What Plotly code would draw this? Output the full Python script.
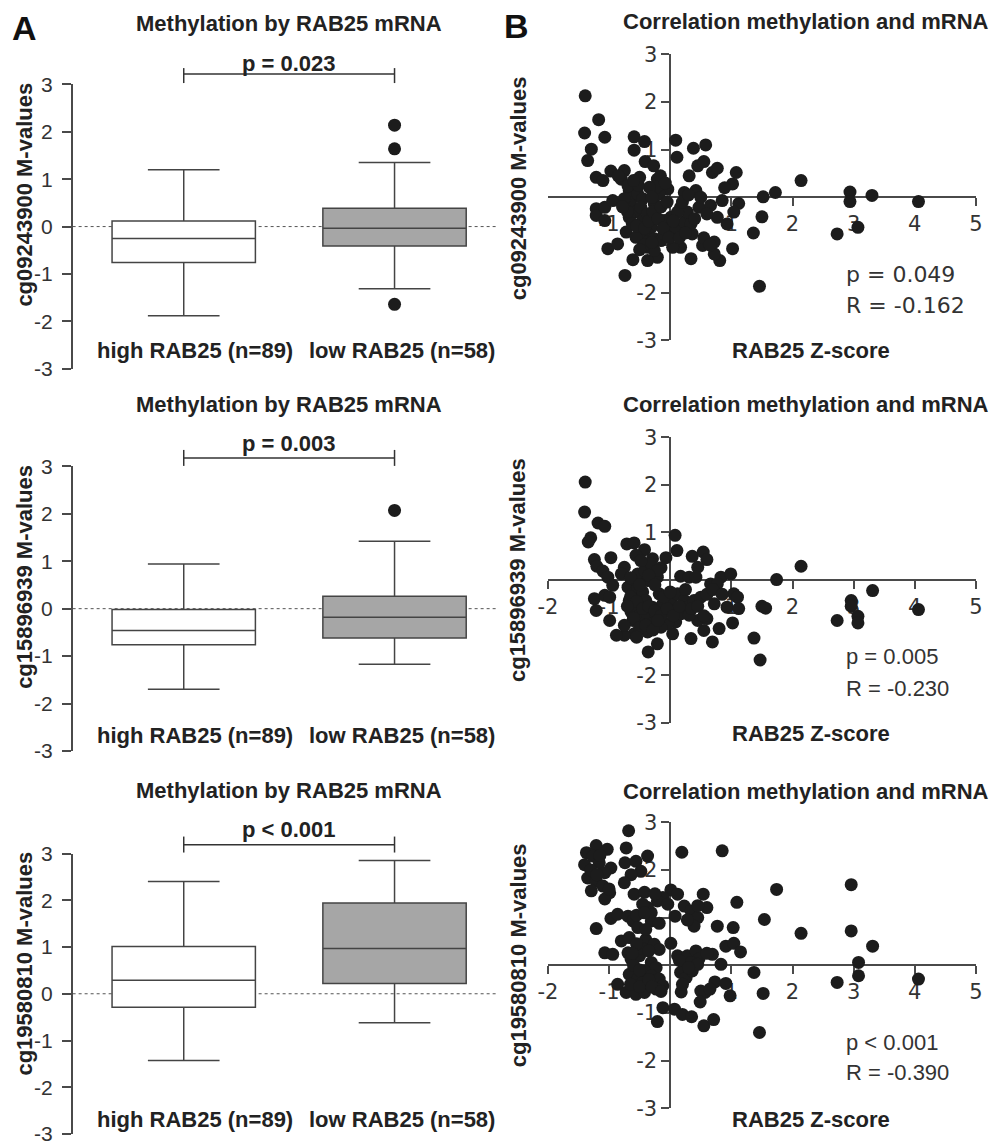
import plotly.graph_objects as go

W, H = 996, 1146
# measured placement of the figure in the photographed page (offset, scale)
AX_OFF, SX = 8.0, 0.984
AY_OFF, SY = 10.5, 0.981

# ---------------- data ----------------
groups = ["high RAB25 (n=89)", "low RAB25 (n=58)"]
probes = ["cg09243900", "cg15896939", "cg19580810"]
box_p = ["p = 0.023", "p = 0.003", "p < 0.001"]
# [lowerfence, q1, median, q3, upperfence]
high_stats = [[-1.88, -0.76, -0.25, 0.12, 1.20],
              [-1.70, -0.76, -0.46, -0.02, 0.94],
              [-1.43, -0.29, 0.29, 1.01, 2.40]]
low_stats = [[-1.31, -0.41, -0.035, 0.385, 1.35],
             [-1.17, -0.62, -0.18, 0.26, 1.42],
             [-0.62, 0.22, 0.97, 1.94, 2.85]]
low_outliers = [[2.14, 1.64, -1.64], [2.07], []]

scatter_p = ["p = 0.049", "p = 0.005", "p < 0.001"]
scatter_r = ["R = -0.162", "R = -0.230", "R = -0.390"]

s1_x = [-1.39, -1.17, -1.40, -1.07, -1.29, -1.35, -0.59, -0.42, -0.59, -0.41, -0.27, 0.09, 0.11, 0.38, 0.58,
        0.45, 0.55, 0.31, 0.69, 0.77, 1.08, 1.02, 0.89, 1.52, 1.50, 1.36, 1.46, 1.12, 1.04, 0.93, 1.02, 0.81,
        0.72, 0.72, 0.53, 0.34, 0.36, 0.47, 0.66, 0.85, 0.77, 0.42, 0.23, 0.17, 0.01, 0.17, 0.04, -0.21, -0.37,
        -0.61, -0.74, -1.02, -0.86, -0.72, -1.21, -1.21, -1.07, -1.07, -0.94, -1.21, -1.10, -0.97, -0.75, -0.80,
        -0.50, -0.21, -0.16, -0.04, -0.67, -0.61, -0.53, -0.45, -0.64, -0.56, -0.48, -0.67, -0.45, -0.37, -0.31,
        -0.26, -0.18, -0.23, -0.34, -0.37, -0.26, -0.15, -0.45, -0.50, -0.56, -0.37, -0.26, -0.10, 0.01, 0.09,
        0.23, 0.34, 0.28, 0.12, -0.10, -0.75, -0.69, 2.14, 1.72, 2.94, 2.94, 3.30, 4.06, 2.73, 3.07,
        -0.62, -0.55, -0.42, -0.35, -0.28, -0.20, -0.15, -0.05, -0.08, -0.30, -0.52, -0.60, -0.70, -0.78, -0.42,
        -0.50, -0.30, -0.12, -0.02, 0.15, 0.25, 0.05, 0.20, 0.30, 0.50, 0.60, 0.40, 0.55, 0.65, -0.85]
s1_y = [2.13, 1.63, 1.35, 1.26, 1.01, 0.77, 1.27, 1.17, 0.99, 0.75, 0.66, 1.20, 0.84, 1.03, 1.10,
        0.66, 0.75, 0.45, 0.52, 0.61, 0.52, 0.28, 0.20, 0.01, -0.41, -0.75, -1.87, -0.13, -0.31, -0.56, -1.08, -1.33,
        -1.19, -0.94, -1.01, -1.29, -0.77, -0.21, -0.17, -0.07, -0.42, 0.14, 0.10, -0.21, -0.42, -1.05, -1.05, -1.26, -1.33,
        -1.31, -1.64, -1.08, -0.98, -0.73, -0.24, -0.38, -0.49, -0.21, -0.07, 0.42, 0.35, 0.55, 0.56, 0.38,
        0.42, 0.38, 0.45, 0.17, 0.14, 0.00, 0.07, -0.03, -0.17, -0.31, -0.21, -0.42, -0.49, -0.35, -0.63,
        -0.14, 0.07, 0.21, 0.21, -0.77, -0.87, -0.91, -0.91, -0.73, -0.84, -1.05, -1.12, -0.77, -0.70, -0.63,
        -0.52, -0.56, -0.31, -0.31, -0.49, -0.03, 0.24, 0.35, 0.10, 0.11, -0.09, 0.04, -0.09, -0.77, -0.63,
        -0.55, -0.60, -0.65, -0.50, -0.30, -0.45, -0.20, -0.10, 0.30, 0.00, 0.25, 0.35, -0.30, -0.20, -1.00,
        -1.10, -0.95, -0.65, -0.85, -0.85, -0.75, -0.50, -0.10, 0.05, 0.00, -0.35, -0.45, -0.85, -1.00, 0.45]

s2_x = [-1.39, -1.40, -1.18, -1.07, -1.30, -1.34, 0.08, 0.11, -0.97, -1.24, -1.20, -1.10, -1.02, -0.94,
        -0.71, -0.59, -0.42, -0.56, -0.29, -0.15, -0.07, -0.75, -0.80, -0.21, 0.36, 0.54, 0.60, 0.45, 0.17,
        0.31, 0.42, 0.83, 0.99, 0.66, 0.77, 1.04, 1.10, 0.93, 1.12, 1.02, 0.80, 0.69, 0.55, 0.45, 0.60, 0.72,
        0.34, 0.04, 0.09, -0.04, -0.21, -0.36, -0.15, -0.37, -0.59, -0.75, -0.88, -0.99, -1.21, -1.24, -1.07,
        -0.99, -0.69, -0.61, -0.53, -0.45, -0.67, -0.53, -0.40, -0.29, -0.64, -0.50, -0.37, -0.23, -0.61, -0.48,
        -0.31, -0.18, -0.12, 0.01, 0.12, 0.23, 0.28, 0.39, 0.50, 0.17, 0.31, 0.01, -0.53, -0.42, -0.31, -0.21,
        -0.37, -0.64, -0.48, 2.14, 1.74, 1.50, 1.56, 1.37, 1.47, 2.73, 2.96, 2.96, 3.07, 3.07, 3.31, 4.06,
        -0.65, -0.55, -0.45, -0.35, -0.25, -0.15, -0.05, 0.05, -0.70, -0.60, -0.50, -0.40, -0.28, -0.20, -0.10,
        0.00, 0.15, 0.35, 0.45, 0.60, 0.70, 0.25, -0.65, -0.50, -0.35, -0.25, -0.75, -0.55, 0.55, 0.85]
s2_y = [2.06, 1.43, 1.20, 1.13, 0.89, 0.80, 0.94, 0.62, 0.47, 0.43, 0.29, 0.19, 0.06, -0.11,
        0.76, 0.78, 0.64, 0.52, 0.45, 0.26, 0.47, 0.27, 0.13, 0.06, 0.50, 0.59, 0.43, 0.27, 0.08,
        0.06, 0.06, 0.06, 0.13, -0.08, -0.08, -0.29, -0.36, -0.57, -0.60, -0.90, -1.02, -1.30, -1.06, -0.85, -0.81, -0.50,
        -1.23, -1.13, -0.88, -0.92, -1.34, -1.51, -0.99, -1.09, -1.13, -1.16, -1.16, -0.85, -0.64, -0.39, -0.32,
        -0.36, -0.15, -0.29, -0.15, -0.25, -0.43, -0.50, -0.43, -0.57, -0.67, -0.74, -0.78, -0.74, -0.85, -0.92,
        -0.92, -0.29, -0.50, -0.43, -0.29, -0.43, -0.57, -0.43, -0.36, -0.71, -0.74, -0.64, 0.13, 0.20, 0.34, 0.20,
        -0.01, 0.03, 0.41, 0.29, 0.01, -0.55, -0.59, -1.22, -1.68, -0.85, -0.43, -0.55, -0.76, -0.90, -0.22, -0.62,
        -0.35, -0.45, -0.60, -0.55, -0.65, -0.75, -0.60, -0.75, -0.55, -0.80, -1.00, -0.95, -1.05, -0.85, -0.35,
        -0.25, -0.55, -0.60, -0.55, -0.30, -0.20, -0.20, 0.05, -0.10, 0.10, -0.10, -0.95, -1.20, -0.75, -0.30]

s3_x = [-0.68, -0.72, -1.21, -1.37, -1.03, -1.40, -1.26, -1.16, -0.97, -1.07, -1.35, -1.21, -1.29, -1.10,
        -0.99, -1.07, -0.74, -0.56, -0.37, -0.48, -0.64, -0.75, -0.59, -0.42, 0.19, 0.85, 0.01, 0.12, -0.12,
        -0.21, -0.37, -0.45, -0.31, -0.04, 0.54, 0.60, 1.09, 0.23, 0.34, 0.45, 0.08, 0.39, 0.77, 1.03, 1.54,
        -0.97, -0.86, -0.69, -0.61, -0.53, -0.31, -0.18, -1.21, -0.80, -0.67, -0.40, -0.26, -0.18, 0.01, -1.07,
        -0.94, -0.69, -0.64, -0.50, -0.31, -0.23, -0.59, -0.42, -0.67, -0.53, -0.31, -0.18, -0.12, -0.86, -0.72,
        -0.56, -0.42, -0.23, -0.45, 0.12, 0.28, 0.42, 0.47, 0.69, 0.91, 1.04, 1.15, 0.83, 0.23, 0.34, 0.17,
        0.26, 0.36, 0.45, 0.73, 0.91, 0.98, 0.18, 0.50, 0.57, 0.49, 1.37, 1.52, 1.46, -0.12, 0.07, 0.20, 0.35,
        -0.21, 0.55, 0.71, 1.74, 2.14, 2.96, 2.96, 3.31, 3.08, 3.08, 2.73, 4.06,
        -0.60, -0.50, -0.45, -0.35, -0.55, -0.65, -0.50, -0.35, -0.30, -0.62, -0.40, -0.55, -0.42, -1.15, -1.30,
        -1.00, -1.20, 0.15, 0.30, 0.28, 0.45, -0.25, 0.20, -0.15, 0.65, 0.60]
s3_y = [2.82, 2.46, 2.51, 2.36, 2.43, 2.11, 2.29, 2.15, 2.04, 1.94, 1.83, 1.76, 1.56, 1.66,
        1.52, 1.39, 2.15, 2.18, 2.29, 1.97, 1.90, 1.73, 1.49, 1.53, 2.37, 2.40, 1.58, 1.49, 1.42,
        1.35, 1.21, 1.28, 1.10, 1.28, 1.49, 1.21, 1.32, 1.24, 1.14, 1.00, 1.03, 0.82, 0.82, 0.79, 0.96,
        0.98, 1.07, 1.03, 0.93, 0.79, 0.93, 0.88, 0.77, 0.51, 0.58, 0.54, 0.44, 0.33, 0.46, 0.26,
        0.23, 0.26, 0.13, 0.20, 0.06, -0.05, -0.05, -0.12, -0.19, -0.29, -0.22, -0.29, -0.43, -0.40, -0.57,
        -0.61, -0.57, -0.50, -0.36, 0.20, 0.20, 0.30, 0.13, 0.23, 0.40, 0.46, 0.28, 0.02, -0.01, 0.06, -0.15,
        -0.26, -0.12, 0.02, -0.35, -0.38, -0.64, -0.56, -0.54, -0.57, -0.77, -0.15, -0.59, -1.41, -0.89, -0.92, -1.03, -1.08,
        -1.18, -1.27, -1.14, 1.59, 0.67, 1.69, 0.72, 0.40, 0.06, -0.22, -0.36, -0.29,
        0.00, -0.10, 0.35, 0.30, 0.45, -0.40, -0.45, -0.30, -0.45, 0.25, 0.75, 1.05, 1.10, 2.30, 2.00,
        1.60, 1.90, 0.10, -0.05, 0.95, 1.25, 1.50, -0.40, -0.55, -0.50, 0.25]

scatter_x = [s1_x, s2_x, s3_x]
scatter_y = [s1_y, s2_y, s3_y]

# ---------------- layout helpers (reference pixel -> paper) ----------------
def clamp(v):
    return min(1.0, max(0.0, v))

def fx(p):
    return clamp(((p - AX_OFF) / SX) / W)

def fy(p):
    return clamp(1 - ((p - AY_OFF) / SY) / H)

SANS = "Liberation Sans, Arial, sans-serif"
VERD = "DejaVu Sans, Verdana, sans-serif"
TXT = "#222222"
AX = "#4a4a4a"
BOLD = 22

box_x_px = (70.7, 497.0)
box_x_range = [-0.527, 1.493]
box_rows = [(83.0, 368.0), (465.7, 751.0), (853.7, 1139.0)]
sc_x_px = (546.5, 975.0)
sc_x_range = [-2, 5]
sc_rows = [(53.0, 339.3), (436.7, 722.7), (822.3, 1109.0)]

box_title_y = [21.7, 403.3, 790.7]
box_ptext_y = [61.7, 443.3, 830.0]
bracket_y = [72.7, 457.3, 845.0]
bracket_tick = [(66.7, 81.7), (449.3, 465.3), (836.7, 852.7)]
cat_y = [350.0, 735.0, 1120.0]
box_ytitle_y = [193.0, 576.0, 963.5]
sc_title_y = [20.0, 403.3, 791.7]
sc_xtitle_y = [350.0, 733.3, 1120.0]
sc_ytitle_y = [187.0, 569.5, 955.5]
sc_p_y = [(273.3, 305.0), (656.7, 688.3), (1043.3, 1073.3)]

def box_xpaper(v):
    a, b = box_x_px
    r0, r1 = box_x_range
    return fx(a + (v - r0) / (r1 - r0) * (b - a))

fig = go.Figure()
layout = dict(width=W, height=H, margin=dict(l=0, r=0, t=0, b=0, pad=0), autosize=False,
              paper_bgcolor="white", plot_bgcolor="white", showlegend=False)
annotations = []
shapes = []

def ticktext(vals):
    return [str(v) for v in vals]

def bold(size=BOLD, family=SANS):
    return dict(family=family, size=size, color=TXT, weight="bold")

for i in range(3):
    n = i + 1
    xa, ya = f"x{n}", f"y{n}"
    top, bot = box_rows[i]
    layout[f"xaxis{n}"] = dict(domain=[fx(box_x_px[0]), fx(box_x_px[1])], range=box_x_range,
                               visible=False, anchor=ya, fixedrange=True)
    yv = [-3, -2, -1, 0, 1, 2, 3]
    layout[f"yaxis{n}"] = dict(domain=[fy(bot), fy(top)], range=[-3, 3], anchor=xa,
                               tickvals=yv, ticktext=ticktext(yv), showline=True, linecolor=AX,
                               linewidth=1.5, ticks="outside", ticklen=9, tickwidth=1.5, tickcolor=AX,
                               ticklabelstandoff=5,
                               showgrid=False, zeroline=False, tickfont=dict(family=SANS, size=21, color="#333333"),
                               layer="below traces", fixedrange=True)
    # boxes
    for gi, (stats, fill) in enumerate([(high_stats[i], "white"), (low_stats[i], "#a6a6a6")]):
        lf, q1, med, q3, uf = stats
        fig.add_trace(go.Box(x=[gi], q1=[q1], median=[med], q3=[q3], lowerfence=[lf], upperfence=[uf],
                             width=0.68, whiskerwidth=0.5, fillcolor=fill,
                             line=dict(color="#444444", width=1.5), boxpoints=False,
                             xaxis=xa, yaxis=ya, hoverinfo="skip"))
    if low_outliers[i]:
        fig.add_trace(go.Scatter(x=[1] * len(low_outliers[i]), y=low_outliers[i], mode="markers",
                                 marker=dict(size=13, color="#1c1c1c"), xaxis=xa, yaxis=ya,
                                 cliponaxis=False, hoverinfo="skip"))
    # dotted zero line
    shapes.append(dict(type="line", xref=xa, yref=ya, x0=box_x_range[0], x1=box_x_range[1], y0=0, y1=0,
                       line=dict(color="#555555", width=1, dash="dot"), layer="below"))
    # bracket
    bx0, bx1 = box_xpaper(0), box_xpaper(1)
    shapes.append(dict(type="line", xref="paper", yref="paper", x0=bx0, x1=bx1,
                       y0=fy(bracket_y[i]), y1=fy(bracket_y[i]), line=dict(color="#333333", width=1.5)))
    for bx in (bx0, bx1):
        shapes.append(dict(type="line", xref="paper", yref="paper", x0=bx, x1=bx,
                           y0=fy(bracket_tick[i][0]), y1=fy(bracket_tick[i][1]),
                           line=dict(color="#333333", width=1.5)))
    annotations.append(dict(text=box_p[i], x=(bx0 + bx1) / 2, y=fy(box_ptext_y[i]), xref="paper", yref="paper",
                            showarrow=False, xanchor="center", yanchor="middle", font=bold()))
    annotations.append(dict(text="Methylation by RAB25 mRNA", x=fx(287), y=fy(box_title_y[i]), xref="paper",
                            yref="paper", showarrow=False, xanchor="center", yanchor="middle", font=bold()))
    for gi, cx in enumerate([193, 400]):
        annotations.append(dict(text=groups[gi], x=fx(cx), y=fy(cat_y[i]), xref="paper", yref="paper",
                                showarrow=False, xanchor="center", yanchor="middle", font=bold()))
    annotations.append(dict(text=f"{probes[i]} M-values", x=fx(22.5), y=fy(box_ytitle_y[i]), xref="paper",
                            yref="paper", showarrow=False, textangle=-90, xanchor="center", yanchor="middle",
                            font=bold()))

    # ---------- scatter ----------
    m = i + 4
    xs, ys = f"x{m}", f"y{m}"
    top, bot = sc_rows[i]
    x0p = sc_x_px[0] + (0 - sc_x_range[0]) / (sc_x_range[1] - sc_x_range[0]) * (sc_x_px[1] - sc_x_px[0])
    xv = [-1, 1, 2, 3, 4, 5] if i == 0 else [-2, -1, 1, 2, 3, 4, 5]
    yv = [-3, -2, -1, 1, 2, 3]
    layout[f"xaxis{m}"] = dict(domain=[fx(sc_x_px[0]), fx(sc_x_px[1])], range=sc_x_range, anchor="free",
                               position=fy((top + bot) / 2), tickvals=xv, ticktext=ticktext(xv),
                               showline=True, linecolor=AX, linewidth=1.5, ticks="outside", ticklen=8,
                               tickwidth=1.5, tickcolor=AX, showgrid=False, zeroline=False,
                               tickfont=dict(family=VERD, size=21, color="#333333"), layer="below traces",
                               fixedrange=True)
    layout[f"yaxis{m}"] = dict(domain=[fy(bot), fy(top)], range=[-3, 3], anchor="free", position=fx(x0p),
                               tickvals=yv, ticktext=ticktext(yv), showline=True, linecolor=AX, linewidth=1.5,
                               ticks="outside", ticklen=8, tickwidth=1.5, tickcolor=AX, showgrid=False,
                               zeroline=False, tickfont=dict(family=VERD, size=21, color="#333333"),
                               layer="below traces", fixedrange=True)
    fig.add_trace(go.Scatter(x=scatter_x[i], y=scatter_y[i], mode="markers",
                             marker=dict(size=13, color="#1c1c1c"), xaxis=xs, yaxis=ys,
                             cliponaxis=False, hoverinfo="skip"))
    annotations.append(dict(text="Correlation methylation and mRNA", x=fx(805), y=fy(sc_title_y[i]),
                            xref="paper", yref="paper", showarrow=False, xanchor="center", yanchor="middle",
                            font=bold()))
    annotations.append(dict(text="RAB25 Z-score", x=fx(810), y=fy(sc_xtitle_y[i]), xref="paper", yref="paper",
                            showarrow=False, xanchor="center", yanchor="middle", font=bold()))
    annotations.append(dict(text=f"{probes[i]} M-values", x=fx(516.7), y=fy(sc_ytitle_y[i]), xref="paper",
                            yref="paper", showarrow=False, textangle=-90, xanchor="center", yanchor="middle",
                            font=bold()))
    pfont = dict(family=VERD, size=22, color="#333333") if i == 0 else dict(family=SANS, size=22, color="#333333")
    for txt, yy in zip([scatter_p[i], scatter_r[i]], sc_p_y[i]):
        annotations.append(dict(text=txt, x=fx(843.3), y=fy(yy), xref="paper", yref="paper", showarrow=False,
                                xanchor="left", yanchor="middle", font=pfont))

annotations.append(dict(text="A", x=fx(23), y=fy(27), xref="paper", yref="paper", showarrow=False,
                        xanchor="center", yanchor="middle", font=dict(family=SANS, size=34, color="#111111", weight="bold")))
annotations.append(dict(text="B", x=fx(515), y=fy(25), xref="paper", yref="paper", showarrow=False,
                        xanchor="center", yanchor="middle", font=dict(family=SANS, size=34, color="#111111", weight="bold")))

layout["annotations"] = annotations
layout["shapes"] = shapes
fig.update_layout(**layout)
fig.write_html("out.html")
